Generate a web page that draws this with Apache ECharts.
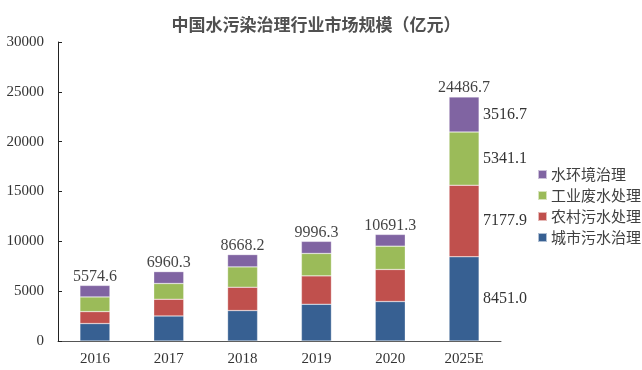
<!DOCTYPE html>
<html><head><meta charset="utf-8">
<script src="https://cdn.jsdelivr.net/npm/echarts@6/dist/echarts.min.js"></script>
<style>html,body{margin:0;padding:0;background:#fff}#c{width:642px;height:370px}</style>
</head><body><div id="c"></div>
<script>
const categories = ['2016','2017','2018','2019','2020','2025E'];
const urban = [1750, 2510, 3055, 3690, 3960, 8451.0];
const rural = [1200, 1680, 2340, 2845, 3216, 7177.9];
const industrial = [1470, 1580, 2040, 2250, 2340, 5341.1];
const waterEnv = [1154.6, 1190.3, 1233.2, 1211.3, 1175.3, 3516.7];
const totals = [5574.6, 6960.3, 8668.2, 9996.3, 10691.3, 24486.7];
const yTicks = [0, 5000, 10000, 15000, 20000, 25000, 30000];

const serif = '"Liberation Serif","Times New Roman",serif';
const cjk = '"Noto Sans CJK SC",sans-serif';

function withLastLabel(arr){
  return arr.map((v,i)=> i===arr.length-1 ? {value:v, label:{show:true}} : v);
}
function barSeries(name, arr, color){
  return {
    name, type:'bar', stack:'s', barWidth:30, data: withLastLabel(arr),
    itemStyle:{color, borderColor:'rgba(255,255,255,0.6)', borderWidth:0.5},
    label:{show:false, position:'right', distance:4, color:'#333', fontFamily:serif, fontSize:16,
      formatter:p=>Number(p.value).toFixed(1)},
    emphasis:{disabled:true}
  };
}
const chart = echarts.init(document.getElementById('c'));
chart.setOption({
  animation:false,
  title:{text:'中国水污染治理行业市场规模（亿元）', left:311, top:11, textAlign:'center',
    textStyle:{fontFamily:cjk, fontSize:17, fontWeight:'bold', color:'#505050'}},
  grid:{left:58, right:141, top:42, bottom:29},
  legend:{orient:'vertical', left:532, top:162, itemWidth:9, itemHeight:9, itemGap:6,
    icon:'rect',
    data:['水环境治理','工业废水处理','农村污水处理','城市污水治理'],
    textStyle:{fontFamily:cjk, fontSize:15, color:'#404040', padding:[0,0,0,-1]}},
  xAxis:{type:'category', data:categories,
    axisLine:{lineStyle:{color:'#555', width:1}}, axisTick:{show:false},
    axisLabel:{fontFamily:serif, fontSize:15, color:'#333', margin:11}},
  yAxis:{type:'value', min:0, max:30000, interval:5000,
    axisLine:{show:true, lineStyle:{color:'#222'}},
    axisTick:{show:true, inside:true, length:4, lineStyle:{color:'#222'}},
    splitLine:{show:false},
    axisLabel:{fontFamily:serif, fontSize:15, color:'#333', margin:14,
      formatter:v=> yTicks.includes(v) ? String(v) : ''}},
  series:[
    barSeries('城市污水治理', urban, '#376092'),
    barSeries('农村污水处理', rural, '#C0504D'),
    barSeries('工业废水处理', industrial, '#9BBB59'),
    barSeries('水环境治理', waterEnv, '#8064A2'),
    {name:'total', type:'scatter', data:totals, symbolSize:0, silent:true,
      label:{show:true, position:'top', distance:1, color:'#111', fontFamily:serif, fontSize:16,
        formatter:p=>Number(p.value).toFixed(1)}}
  ]
});
</script></body></html>
